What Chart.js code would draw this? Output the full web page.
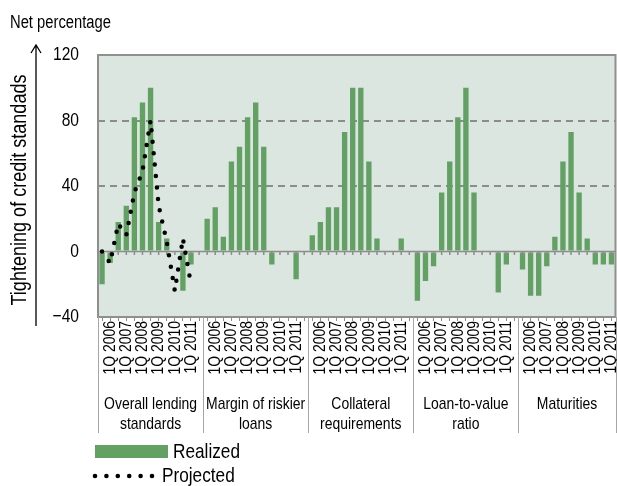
<!DOCTYPE html>
<html>
<head>
<meta charset="utf-8">
<script src="https://cdn.jsdelivr.net/npm/chart.js@4.4.0/dist/chart.umd.min.js"></script>
<style>
  html, body { margin: 0; padding: 0; background: #fff; }
</style>
</head>
<body>
<canvas id="chart" width="617" height="486"></canvas>
<script>
// Componentes (grupos) e rótulos do eixo
const groupNames = [['Overall lending', 'standards'], ['Margin of riskier', 'loans'], ['Collateral', 'requirements'], ['Loan-to-value', 'ratio'], ['Maturities']];
const yearLabels = ['1Q 2006', '1Q 2007', '1Q 2008', '1Q 2009', '1Q 2010', '1Q 2011'];
const yTicks = [-40, 0, 40, 80, 120];

// Valores realizados (semestrais, 12 por componente)
const overallRealized = [-20, -7, 18, 28, 82, 91, 100, 18, 8, 0, -24, -8];
const marginRealized = [20, 27, 9, 55, 64, 82, 91, 64, -8, 0, 0, -17];
const collateralRealized = [10, 18, 27, 27, 73, 100, 100, 55, 8, 0, 0, 8];
const ltvRealized = [-30, -18, -9, 36, 55, 82, 100, 36, 0, 0, -25, -8];
const maturitiesRealized = [-11, -27, -27, -9, 9, 55, 73, 36, 8, -8, -8, -8];

// Projeção (só para o padrão geral)
const overallProjected = [0, -7, 17, 10, 36, 49, 80, 28, 6, -24, 8, -20];

// Fonte estreita simulada: Liberation Sans comprimida na horizontal
const F = '"Liberation Sans", Arial, sans-serif';
const NARROW = 0.82;
const GREEN = '#62a064';

// Monta as séries com um espaço vazio entre os grupos
const realizedGroups = [overallRealized, marginRealized, collateralRealized, ltvRealized, maturitiesRealized];
const slotLabels = [];
const realizedAll = [];
const projectedAll = [];
realizedGroups.forEach((vals, g) => {
    vals.forEach((v, k) => {
        slotLabels.push(groupNames[g].join(' ') + ' ' + k);
        realizedAll.push(v);
        projectedAll.push(g === 0 ? overallProjected[k] : null);
    });
    if (g < realizedGroups.length - 1) {
        slotLabels.push('gap ' + g);
        realizedAll.push(null);
        projectedAll.push(null);
    }
});
const perGroup = 13;

function yearLabelFor(i) {
    const k = i % perGroup;
    if (k < 12 && k % 2 === 1) return yearLabels[(k - 1) / 2];
    return '';
}

// texto "narrow": escala só na direção do texto
function narrowText(ctx, text, x, y, size, align, angle) {
    ctx.save();
    ctx.translate(x, y);
    if (angle) ctx.rotate(angle);
    ctx.scale(NARROW, 1);
    ctx.font = size + 'px ' + F;
    ctx.textAlign = align;
    ctx.textBaseline = 'middle';
    ctx.fillText(text, 0, 0);
    ctx.restore();
}

// Desenhos extras: fundo, linha do zero, separadores, textos, legenda
const decor = {
    id: 'decor',
    beforeDraw(chart) {
        const { ctx, chartArea: a } = chart;
        ctx.save();
        ctx.fillStyle = '#dce6e0';
        ctx.fillRect(a.left, a.top, a.right - a.left, a.bottom - a.top);
        ctx.restore();
    },
    afterDatasetDraw(chart, args) {
        if (args.index !== 0) return;
        const { ctx, chartArea: a, scales: { x, y } } = chart;
        const y0 = y.getPixelForValue(0);
        ctx.save();
        ctx.strokeStyle = '#8c8c8c';
        ctx.lineWidth = 1.5;
        ctx.beginPath();
        ctx.moveTo(a.left, y0);
        ctx.lineTo(a.right, y0);
        for (let i = 0; i < slotLabels.length; i++) {
            const px = x.getPixelForValue(i);
            ctx.moveTo(px, y0);
            ctx.lineTo(px, y0 + 3.5);
        }
        ctx.stroke();
        ctx.restore();
    },
    afterDraw(chart) {
        const { ctx, chartArea: a, scales: { x, y } } = chart;
        const slot = (a.right - a.left) / slotLabels.length;
        const bottom = 433;
        ctx.save();
        // borda da área do gráfico
        ctx.strokeStyle = '#8f8f8f';
        ctx.lineWidth = 2;
        ctx.strokeRect(a.left, a.top, a.right - a.left, a.bottom - a.top);

        // separadores dos grupos
        ctx.strokeStyle = '#a6a6a6';
        ctx.lineWidth = 1;
        ctx.beginPath();
        const edges = [a.left];
        for (let g = 1; g < groupNames.length; g++) {
            edges.push(x.getPixelForValue(g * perGroup) - slot / 2);
        }
        edges.push(a.right);
        edges.forEach(px => {
            ctx.moveTo(Math.round(px) + 0.5, a.bottom);
            ctx.lineTo(Math.round(px) + 0.5, bottom);
        });
        ctx.stroke();

        ctx.fillStyle = '#000';
        // rótulos dos anos (verticais)
        for (let i = 0; i < slotLabels.length; i++) {
            const t = yearLabelFor(i);
            if (t) narrowText(ctx, t, x.getPixelForValue(i), a.bottom + 4, 17, 'right', -Math.PI / 2);
        }
        // rótulos do eixo y
        yTicks.forEach(v => {
            const t = v < 0 ? '\u2212' + Math.abs(v) : String(v);
            narrowText(ctx, t, 79, y.getPixelForValue(v), 19, 'right');
        });

        // nomes dos grupos
        groupNames.forEach((lines, g) => {
            const cx = (edges[g] + edges[g + 1]) / 2;
            lines.forEach((t, j) => narrowText(ctx, t, cx, 404 + j * 20, 17, 'center'));
        });

        // título do eixo y e seta
        narrowText(ctx, 'Net percentage', 10, 23, 18, 'left');
        narrowText(ctx, 'Tightening of credit standads', 20, 190, 22, 'center', -Math.PI / 2);
        ctx.strokeStyle = '#000';
        ctx.lineWidth = 1.3;
        ctx.beginPath();
        ctx.moveTo(36, 45);
        ctx.lineTo(36, 326);
        ctx.moveTo(31, 53);
        ctx.lineTo(36, 45);
        ctx.lineTo(41, 53);
        ctx.stroke();

        // legenda
        ctx.fillStyle = GREEN;
        ctx.fillRect(95, 445, 73, 13);
        ctx.fillStyle = '#000';
        for (let i = 0; i < 6; i++) {
            ctx.beginPath();
            ctx.arc(95 + i * 11.4, 476, 2.3, 0, Math.PI * 2);
            ctx.fill();
        }
        narrowText(ctx, 'Realized', 173, 452, 21, 'left');
        narrowText(ctx, 'Projected', 162, 476, 21, 'left');
        ctx.restore();
    }
};

new Chart(document.getElementById('chart'), {
    type: 'bar',
    data: {
        labels: slotLabels,
        datasets: [
            {
                type: 'bar',
                label: 'Realized',
                data: realizedAll,
                backgroundColor: GREEN,
                barPercentage: 0.66,
                categoryPercentage: 1,
                order: 1
            },
            {
                type: 'line',
                label: 'Projected',
                data: projectedAll,
                borderColor: '#000',
                borderWidth: 4.5,
                borderDash: [0, 11.5],
                borderCapStyle: 'round',
                pointRadius: 0,
                tension: 0,
                spanGaps: false,
                order: 0
            }
        ]
    },
    options: {
        responsive: false,
        animation: false,
        devicePixelRatio: 1,
        layout: { padding: { top: 55, right: 1.5, left: 0, bottom: 0 } },
        plugins: { legend: { display: false }, tooltip: { enabled: false } },
        scales: {
            x: {
                offset: true,
                grid: { offset: false, drawOnChartArea: false, tickLength: 4, color: '#8c8c8c', lineWidth: 1 },
                border: { display: false },
                ticks: { display: false, autoSkip: false, callback: (v, i) => yearLabelFor(i) },
                afterFit: s => { s.height = 169; }
            },
            y: {
                min: -40,
                max: 120,
                afterBuildTicks: s => { s.ticks = yTicks.map(v => ({ value: v })); },
                grid: {
                    drawTicks: false,
                    lineWidth: 2,
                    color: c => (c.tick && (c.tick.value === 40 || c.tick.value === 80)) ? '#8c8c8c' : 'rgba(0,0,0,0)'
                },
                border: { display: false, dash: [7, 5] },
                ticks: { display: false },
                afterFit: s => { s.width = 98; }
            }
        }
    },
    plugins: [decor]
});
</script>
</body>
</html>
